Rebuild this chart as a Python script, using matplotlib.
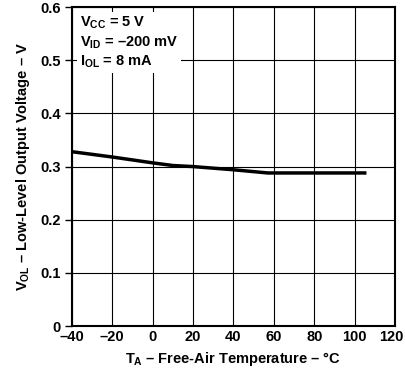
import numpy as np
import matplotlib
matplotlib.use("Agg")
import matplotlib.pyplot as plt
import matplotlib.transforms as mtransforms

plt.rcParams["font.family"] = "Liberation Sans"
plt.rcParams["font.weight"] = "bold"
plt.rcParams["mathtext.fontset"] = "custom"
plt.rcParams["mathtext.rm"] = "Liberation Sans:bold"
plt.rcParams["mathtext.it"] = "Liberation Sans:bold"
plt.rcParams["mathtext.bf"] = "Liberation Sans:bold"

# Datos
temperatura = [-40, -20, 0, 10, 20, 40, 57, 80, 105]
v_ol = [0.328, 0.318, 0.307, 0.302, 0.300, 0.294, 0.288, 0.288, 0.288]

x_ticks = [-40, -20, 0, 20, 40, 60, 80, 100, 120]
x_labels = ["\u201340", "\u201320", "0", "20", "40", "60", "80", "100", "120"]
y_ticks = [0, 0.1, 0.2, 0.3, 0.4, 0.5, 0.6]
y_labels = ["0", "0.1", "0.2", "0.3", "0.4", "0.5", "0.6"]

fig = plt.figure(figsize=(4.06, 3.71), dpi=100)
ax = fig.add_axes([0.177, 0.121, 0.796, 0.86])

ax.plot(temperatura, v_ol, color="black", lw=2.5, zorder=3)

ax.set_xlim(-40, 120)
ax.set_ylim(0, 0.6)
ax.set_xticks(x_ticks)
ax.set_xticklabels(x_labels, fontsize=10.5, fontweight="bold")
ax.set_yticks(y_ticks)
ax.set_yticklabels(y_labels, fontsize=10.5, fontweight="bold")
ax.tick_params(axis="x", length=0, pad=3)
ax.tick_params(axis="y", length=5, width=1, direction="out", pad=3)
ax.grid(True, color="black", lw=0.8)
ax.set_axisbelow(True)
for s in ax.spines.values():
    s.set_linewidth(1.5)

# el último rótulo se corre un poco a la izquierda como en el original
ultimo = ax.get_xticklabels()[-1]
ultimo.set_transform(ultimo.get_transform() + mtransforms.ScaledTranslation(-4 / 100, 0, fig.dpi_scale_trans))

ax.set_xlabel("$T_A$ \u2013 Free-Air Temperature \u2013 \u00b0C", fontsize=10.5, fontweight="bold", labelpad=4)
ax.set_ylabel("$V_{OL}$ \u2013 Low-Level Output Voltage \u2013 V", fontsize=10.5, fontweight="bold", labelpad=6)

# Caja de condiciones
ax.text(-36, 0.585, "$V_{CC}$ = 5 V\n$V_{ID}$ = \u2013200 mV\n$I_{OL}$ = 8 mA",
        fontsize=10.5, fontweight="bold", va="top", ha="left", linespacing=1.25,
        bbox=dict(facecolor="white", edgecolor="none", pad=2), zorder=4)

fig.savefig("out.png", dpi=100)
